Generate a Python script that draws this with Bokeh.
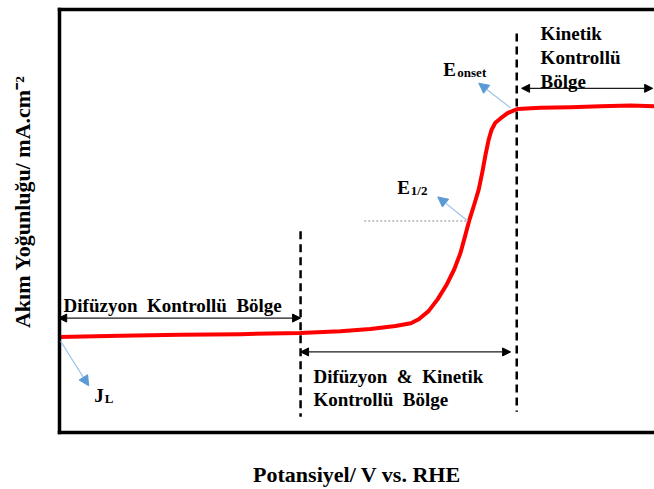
from bokeh.embed import file_html
from bokeh.models import Arrow, FixedTicker, Label, LinearAxis, NormalHead, Range1d
from bokeh.plotting import figure
from bokeh.resources import INLINE

# Polarisation curve (potential vs. RHE, current density)
potential = [0.150, 0.253, 0.351, 0.449, 0.547, 0.612, 0.661, 0.702, 0.727, 0.740,
             0.756, 0.771, 0.785, 0.798, 0.808, 0.816, 0.823, 0.831, 0.838, 0.844,
             0.849, 0.854, 0.859, 0.865, 0.874, 0.885, 0.901, 0.939, 0.988, 1.037,
             1.086, 1.125]
current = [-4.02, -4.00, -3.98, -3.97, -3.95, -3.92, -3.88, -3.83, -3.78, -3.71,
           -3.57, -3.36, -3.12, -2.84, -2.56, -2.25, -1.97, -1.70, -1.45, -1.14,
           -0.85, -0.59, -0.41, -0.29, -0.21, -0.12, -0.05, -0.03, -0.02, 0.00,
           0.01, 0.00]

# Characteristic values
E_onset = 0.90
E_half = 0.82
J_L = -4.0
J_half = J_L / 2
E_mixed = 0.547          # start of the mixed diffusion/kinetic region

region_names = ["Difüzyon Kontrollü Bölge",
                "Difüzyon & Kinetik\nKontrollü Bölge",
                "Kinetik\nKontrollü\nBölge"]
x_title = "Potansiyel/ V vs. RHE"
y_title = "Akım Yoğunluğu/ mA.cm⁻²"

FONT = "Liberation Serif"
WIDE = "\u2002"          # wider word gap used in the region labels

p = figure(width=654, height=489, output_backend="svg", toolbar_location=None,
           x_range=Range1d(0.1533, 1.125), y_range=Range1d(-5.683, 1.683),
           x_axis_location=None, y_axis_location=None,
           min_border_left=59, min_border_right=0, min_border_top=9,
           min_border_bottom=55)
p.grid.visible = False
p.outline_line_color = None
p.background_fill_color = "white"
p.border_fill_color = "white"

# Frame: left, bottom and top rules without ticks
axes = {}
for side in ("left", "below", "above"):
    ax = LinearAxis(ticker=FixedTicker(ticks=[]), axis_line_width=3.5,
                    axis_line_color="black", axis_line_cap="square",
                    major_tick_line_color=None, minor_tick_line_color=None,
                    major_label_text_font_size="0px", major_label_standoff=0,
                    axis_label_text_font=FONT, axis_label_text_font_style="bold",
                    axis_label_text_font_size="22px", axis_label_text_color="black")
    p.add_layout(ax, side)
    axes[side] = ax

axes["below"].axis_label = x_title
axes["below"].axis_label_standoff = 29
# leading no-break spaces lift the rotated title slightly above the frame centre
axes["left"].axis_label = "\u00a0" * 7 + y_title
axes["left"].axis_label_standoff = 25

# Region boundaries
p.segment(x0=[E_mixed, E_onset], y0=[-2.18, 1.267], x1=[E_mixed, E_onset],
          y1=[-5.41, -5.32], line_color="black", line_width=2.5, line_dash="8 5")

# Half-wave level
p.segment(x0=[0.651], y0=[J_half], x1=[E_half], y1=[J_half],
          line_color="#8c8c8c", line_width=1, line_dash="2 2")

# Curve
p.line(potential, current, line_color="#ff0000", line_width=4, line_join="round")

# Region arrows
def region_arrow(x0, x1, y):
    p.add_layout(Arrow(x_start=x0, y_start=y, x_end=x1, y_end=y,
                       line_color="#1a1a1a", line_width=1.2,
                       start=NormalHead(size=8, fill_color="black", line_color="black"),
                       end=NormalHead(size=8, fill_color="black", line_color="black")))

region_arrow(0.152, E_mixed, -3.69)
region_arrow(E_mixed, 0.890, -4.28)
region_arrow(0.908, 1.122, 0.31)

# Pointer arrows
def pointer(x0, y0, x1, y1):
    p.add_layout(Arrow(x_start=x0, y_start=y0, x_end=x1, y_end=y1,
                       line_color="#9dc3e6", line_width=1.2,
                       end=NormalHead(size=10, fill_color="#5b9bd5", line_color="#5b9bd5")))

pointer(0.890, -0.03, 0.838, 0.40)
pointer(E_half, J_half, 0.771, -1.58)
pointer(0.155, -4.09, 0.201, -4.87)

def text(x, y, s, size):
    p.add_layout(Label(x=x, y=y, text=s, text_font=FONT, text_font_style="bold",
                       text_font_size=f"{size}px", text_color="black",
                       text_align="left", text_baseline="alphabetic"))

# Region labels
text(0.160, -3.48, region_names[0].replace(" ", WIDE), 19)
for i, line in enumerate(region_names[1].split("\n")):
    text(0.568, -4.70 - i * 0.41, line.replace(" ", WIDE), 19)
for i, line in enumerate(region_names[2].split("\n")):
    text(0.939, 1.267 - i * 0.416, line, 19)

# Symbol labels with subscripts
text(0.780, 0.643, "E", 19)
text(0.803, 0.591, "onset", 13)
text(0.705, -1.42, "E", 19)
text(0.727, -1.47, "1/2", 13)
text(0.210, -5.04, "J", 19)
text(0.227, -5.09, "L", 13)

open("out.html", "w").write(file_html(p, INLINE))
